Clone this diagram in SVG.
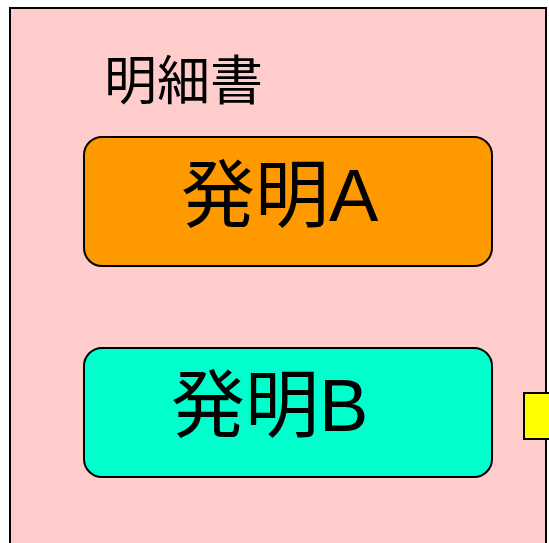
<svg xmlns="http://www.w3.org/2000/svg" width="549" height="543" viewBox="0 0 549 543">
<style>
.box{stroke:#000;stroke-width:2}
.t{font-family:"Liberation Sans","Noto Sans CJK JP",sans-serif;fill:#000}
</style>
<rect width="549" height="543" fill="#fff"/>
<g id="spec">
<rect x="10" y="8" width="536" height="545" fill="#FFCCCC" stroke="#000" stroke-width="2"/>
<text class="t" x="104" y="100" font-size="53">明細書</text>
</g>
<g id="inventionA">
<rect class="box" x="84" y="137" width="408" height="129" rx="18" fill="#FF9900"/>
<text class="t" x="181" y="221" font-size="74">発明A</text>
</g>
<g id="inventionB">
<rect class="box" x="84" y="348" width="408" height="129" rx="18" fill="#00FFCC"/>
<text class="t" x="171" y="431" font-size="74">発明B</text>
</g>
<g id="yellow">
<rect x="524" y="393" width="40" height="46" fill="#FFFF00" stroke="#000" stroke-width="2"/>
</g>
<g id="connectors"></g>
</svg>
